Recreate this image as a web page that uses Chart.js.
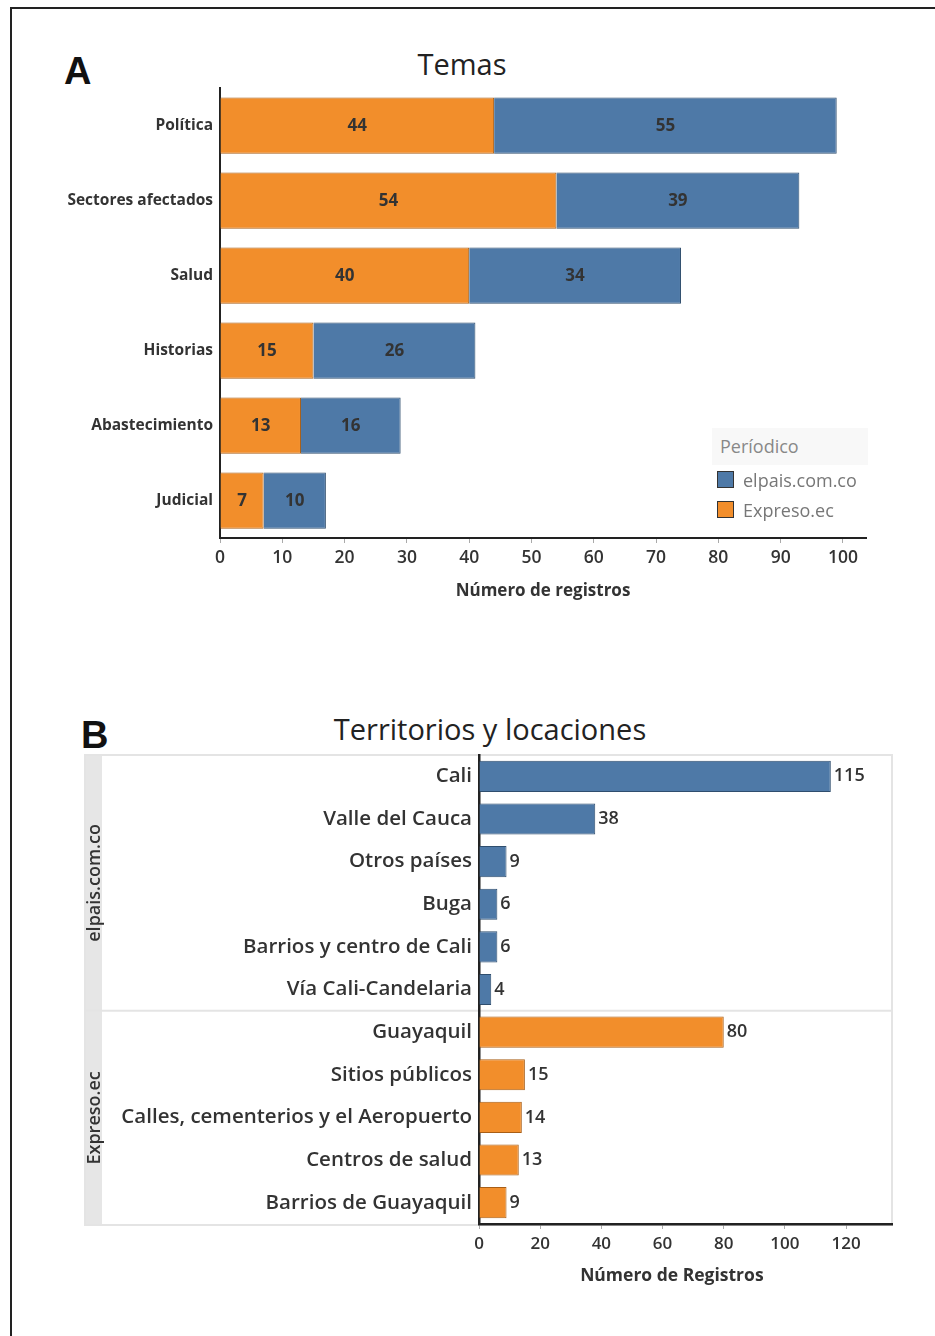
<!DOCTYPE html>
<html>
<head>
<meta charset="utf-8">
<script src="https://cdn.jsdelivr.net/npm/chart.js@4.4.0/dist/chart.umd.min.js"></script>
<style>
  html, body { margin: 0; padding: 0; background: #fff; width: 935px; height: 1336px; overflow: hidden; }
  body { position: relative; font-family: "Open Sans", sans-serif; }
  .frame { position: absolute; left: 10px; top: 7px; width: 1000px; height: 1400px; border: 2px solid #222; box-sizing: border-box; }
  .letter { position: absolute; font-family: "Liberation Sans", Arial, sans-serif; font-weight: bold; font-size: 38px; color: #111; line-height: 1; }
  .title { position: absolute; color: #222; line-height: 1; transform: translate(-50%, -50%); white-space: nowrap; }
  canvas { position: absolute; left: 0; }
  .legend { position: absolute; left: 712px; top: 428px; width: 156px; }
  .legend .head { background: #f8f8f8; height: 37px; line-height: 37px; padding-left: 8px; color: #888; font-size: 18px; }
  .legend .item { position: relative; height: 30px; line-height: 30px; padding-left: 31px; color: #777; font-size: 18px; }
  .legend .sw { position: absolute; left: 5px; top: 6px; width: 15px; height: 15px; border: 1.5px solid #333; }
</style>
</head>
<body>
<div class="frame"></div>
<div class="letter" style="left:64px; top:52px;">A</div>
<div class="title" style="left:462px; top:63px; font-size:29px;">Temas</div>
<div class="letter" style="left:81px; top:716px;">B</div>
<div class="title" style="left:490px; top:728px; font-size:29px;">Territorios y locaciones</div>

<canvas id="chartA" width="935" height="620" style="top:0;"></canvas>
<canvas id="chartB" width="935" height="600" style="top:700px;"></canvas>

<div class="legend">
  <div class="head">Períodico</div>
  <div class="item"><span class="sw" style="background:#4e79a7;"></span>elpais.com.co</div>
  <div class="item"><span class="sw" style="background:#f28e2b;"></span>Expreso.ec</div>
</div>

<script>
// --- Datos (A: Temas) ---
const temas = ["Política", "Sectores afectados", "Salud", "Historias", "Abastecimiento", "Judicial"];
const temasExpreso = [44, 54, 40, 15, 13, 7];
const temasElpais = [55, 39, 34, 26, 16, 10];
const ticksA = [0, 10, 20, 30, 40, 50, 60, 70, 80, 90, 100];

// --- Datos (B: Territorios y locaciones) ---
const lugaresElpais = ["Cali", "Valle del Cauca", "Otros países", "Buga", "Barrios y centro de Cali", "Vía Cali-Candelaria"];
const valoresElpais = [115, 38, 9, 6, 6, 4];
const lugaresExpreso = ["Guayaquil", "Sitios públicos", "Calles, cementerios y el Aeropuerto", "Centros de salud", "Barrios de Guayaquil"];
const valoresExpreso = [80, 15, 14, 13, 9];
const ticksB = [0, 20, 40, 60, 80, 100, 120];

const AZUL = '#4e79a7';
const NARANJA = '#f28e2b';
const TEXTO = '#333';

// etiquetas de valor: centradas (A) o al final de la barra (B)
const valueLabels = {
    id: 'valueLabels',
    afterDatasetsDraw(chart, args, opts) {
        const ctx = chart.ctx;
        ctx.save();
        ctx.font = opts.font;
        ctx.fillStyle = TEXTO;
        ctx.textBaseline = 'middle';
        chart.data.datasets.forEach((ds, i) => {
            const meta = chart.getDatasetMeta(i);
            meta.data.forEach((bar, j) => {
                const v = ds.data[j];
                if (v === null || v === undefined) return;
                if (opts.mode === 'center') {
                    ctx.textAlign = 'center';
                    ctx.fillText(v, (bar.x + bar.base) / 2, bar.y + 1);
                } else {
                    ctx.textAlign = 'left';
                    ctx.fillText(v, bar.x + 3, bar.y);
                }
            });
        });
        ctx.restore();
    }
};

// --- Gráfico A ---
new Chart(document.getElementById('chartA'), {
    type: 'bar',
    data: {
        labels: temas,
        datasets: [
            { label: 'Expreso.ec', data: temasExpreso, backgroundColor: NARANJA, borderColor: '#a85e16', borderWidth: 1 },
            { label: 'elpais.com.co', data: temasElpais, backgroundColor: AZUL, borderColor: '#2f4e6e', borderWidth: 1 }
        ]
    },
    options: {
        indexAxis: 'y',
        responsive: false,
        animation: false,
        layout: { padding: { top: 88, right: 69, bottom: 10, left: 0 } },
        datasets: { bar: { barPercentage: 0.75, categoryPercentage: 1 } },
        plugins: {
            legend: { display: false },
            tooltip: { enabled: false },
            valueLabels: { mode: 'center', font: '700 17px "Open Sans"' }
        },
        scales: {
            x: {
                stacked: true,
                min: 0, max: 103.7,
                afterFit: s => { s.height = 72; },
                afterBuildTicks: s => { s.ticks = ticksA.map(v => ({ value: v })); },
                grid: { drawOnChartArea: false, drawTicks: true, tickLength: 5, color: '#aaa' },
                border: { color: '#222', width: 2 },
                ticks: { color: TEXTO, padding: 5, font: { family: 'Open Sans', size: 17.5, weight: '600' }, maxRotation: 0 },
                title: { display: true, text: 'Número de registros', color: TEXTO, padding: { top: 0, bottom: 9 },
                         font: { family: 'Open Sans', size: 17, weight: 'bold' } }
            },
            y: {
                stacked: true,
                afterFit: s => { s.width = 220; },
                grid: { display: false },
                border: { color: '#222', width: 2 },
                ticks: { color: TEXTO, padding: -1, font: { family: 'Open Sans', size: 15.5, weight: 'bold' } }
            }
        }
    },
    plugins: [valueLabels]
});

// --- Gráfico B ---
const lugares = lugaresElpais.concat(lugaresExpreso);
const nE = lugaresElpais.length;
const serieElpais = valoresElpais.concat(lugaresExpreso.map(() => null));
const serieExpreso = lugaresElpais.map(() => null).concat(valoresExpreso);

// panel con franja lateral y separador de grupos
const panelB = {
    id: 'panelB',
    beforeDraw(chart) {
        const { ctx, chartArea } = chart;
        const y = chart.scales.y;
        const left = 85, top = chartArea.top, right = chartArea.right, bottom = chartArea.bottom + 1;
        const split = (y.getPixelForValue(nE - 1) + y.getPixelForValue(nE)) / 2;
        ctx.save();
        ctx.fillStyle = '#e6e6e6';
        ctx.fillRect(left, top, 17, bottom - top);
        ctx.strokeStyle = '#e4e4e4';
        ctx.lineWidth = 2;
        ctx.strokeRect(left, top, right - left, bottom - top);
        ctx.beginPath();
        ctx.moveTo(left, split);
        ctx.lineTo(right, split);
        ctx.stroke();
        ctx.fillStyle = TEXTO;
        ctx.font = '600 18px "Open Sans"';
        ctx.textAlign = 'center';
        ctx.textBaseline = 'middle';
        [['elpais.com.co', (top + split) / 2], ['Expreso.ec', (split + bottom) / 2]].forEach(([t, cy]) => {
            ctx.save();
            ctx.translate(95, cy);
            ctx.rotate(-Math.PI / 2);
            ctx.fillText(t, 0, 0);
            ctx.restore();
        });
        ctx.restore();
    }
};

new Chart(document.getElementById('chartB'), {
    type: 'bar',
    data: {
        labels: lugares,
        datasets: [
            { label: 'elpais.com.co', data: serieElpais, backgroundColor: AZUL, borderColor: '#2f4e6e', borderWidth: 1 },
            { label: 'Expreso.ec', data: serieExpreso, backgroundColor: NARANJA, borderColor: '#a85e16', borderWidth: 1 }
        ]
    },
    options: {
        indexAxis: 'y',
        responsive: false,
        animation: false,
        layout: { padding: { top: 55, right: 43, bottom: 10, left: 0 } },
        datasets: { bar: { barPercentage: 0.73, categoryPercentage: 1 } },
        plugins: {
            legend: { display: false },
            tooltip: { enabled: false },
            valueLabels: { mode: 'end', font: '600 18px "Open Sans"' }
        },
        scales: {
            x: {
                stacked: true,
                min: 0, max: 135,
                afterFit: s => { s.height = 66; },
                afterBuildTicks: s => { s.ticks = ticksB.map(v => ({ value: v })); },
                grid: { drawOnChartArea: false, drawTicks: true, tickLength: 5, color: '#aaa' },
                border: { color: '#222', width: 2.5 },
                ticks: { color: TEXTO, padding: 5, font: { family: 'Open Sans', size: 17, weight: '600' }, maxRotation: 0 },
                title: { display: true, text: 'Número de Registros      ', color: TEXTO, padding: { top: 0, bottom: 3 },
                         font: { family: 'Open Sans', size: 17.5, weight: 'bold' } }
            },
            y: {
                stacked: true,
                afterFit: s => { s.width = 479; },
                grid: { display: false },
                border: { color: '#222', width: 2.5 },
                ticks: { color: TEXTO, padding: -1, font: { family: 'Open Sans', size: 20.5, weight: '600' } }
            }
        }
    },
    plugins: [panelB, valueLabels]
});
</script>
</body>
</html>
